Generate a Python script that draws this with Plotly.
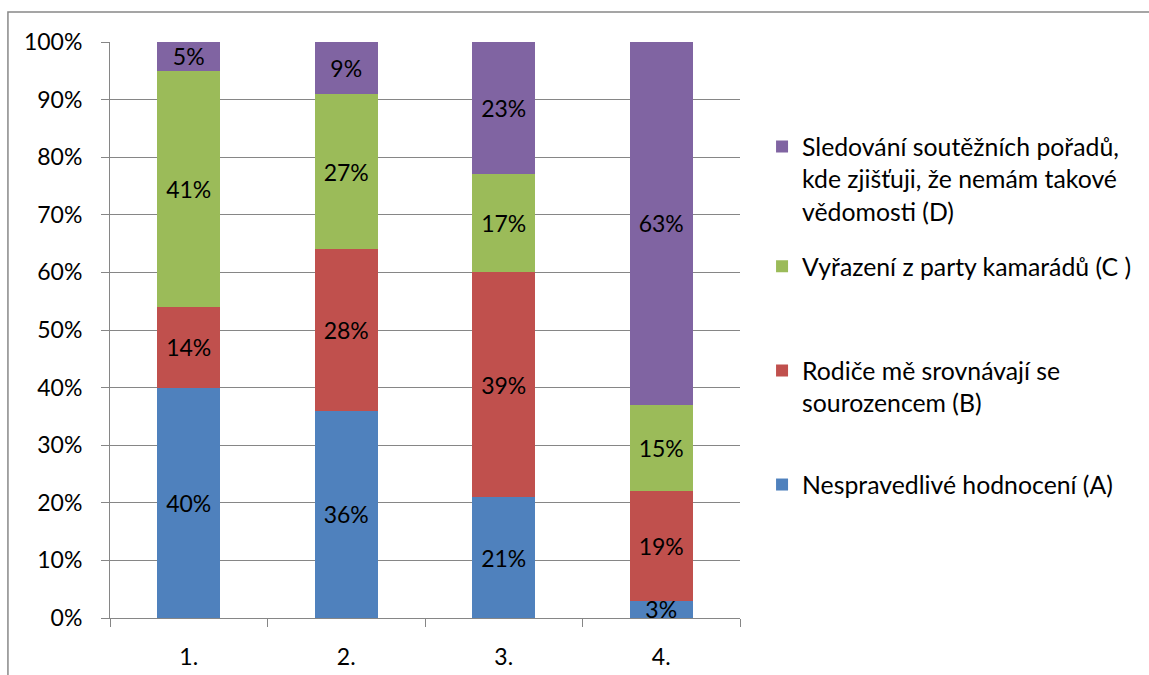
import plotly.graph_objects as go

categories = ["1.", "2.", "3.", "4."]
series_names = [
    "Nespravedlivé hodnocení (A)",
    "Rodiče mě srovnávají se<br>sourozencem (B)",
    "Vyřazení z party kamarádů (C )",
    "Sledování soutěžních pořadů,<br>kde zjišťuji, že nemám takové<br>vědomosti (D)",
]
values_A = [40, 36, 21, 3]
values_B = [14, 28, 39, 19]
values_C = [41, 27, 17, 15]
values_D = [5, 9, 23, 63]
colors = ["#4F81BD", "#C0504D", "#9BBB59", "#8064A2"]
legend_ids = ["legend4", "legend3", "legend2", "legend"]
legend_tops = [0.271, 0.469, 0.650, 0.858]

FONT = "Lato, Open Sans, sans-serif"
TS = 23
fig = go.Figure()
for i, (name, vals, col) in enumerate(zip(series_names, [values_A, values_B, values_C, values_D], colors)):
    fig.add_trace(go.Bar(
        x=categories, y=[v / 100 for v in vals], name=name,
        marker=dict(color=col, line=dict(width=0)),
        text=[f"{v}%" for v in vals], textposition="inside",
        insidetextanchor="middle", constraintext="none",
        textfont=dict(color="black", size=TS, family=FONT),
        legend=legend_ids[i], hoverinfo="skip",
    ))

layout_legends = {}
for lid, top in zip(legend_ids, legend_tops):
    layout_legends[lid] = dict(
        x=1.035, xanchor="left", y=top, yanchor="top",
        font=dict(size=24.8, family=FONT, color="black"),
        itemwidth=30, valign="top", bgcolor="rgba(0,0,0,0)",
    )

fig.update_layout(
    barmode="stack", bargap=0.6,
    width=1149, height=675,
    margin=dict(l=110, r=409, t=42, b=57),
    paper_bgcolor="white", plot_bgcolor="white",
    font=dict(family=FONT, size=TS, color="black"),
    showlegend=True,
    **layout_legends,
)
fig.update_yaxes(
    range=[0, 1], dtick=0.1, tickformat=".0%",
    showgrid=True, gridcolor="#868686", gridwidth=1,
    showline=True, linecolor="#868686", linewidth=1,
    ticks="outside", ticklen=8, tickcolor="#868686",
    zeroline=False, tickfont=dict(size=TS), ticklabelstandoff=14,
    automargin=False,
)
fig.update_xaxes(
    showline=True, linecolor="#868686", linewidth=1,
    ticks="outside", ticklen=8, tickcolor="#868686",
    tickson="boundaries", tickfont=dict(size=TS), ticklabelstandoff=18,
    automargin=False,
)
fig.add_shape(type="rect", xref="paper", yref="paper",
              x0=-0.162, x1=1.8, y0=-0.3, y1=1.052,
              line=dict(color="#888888", width=1.5), layer="below")

fig.write_html("out.html")
